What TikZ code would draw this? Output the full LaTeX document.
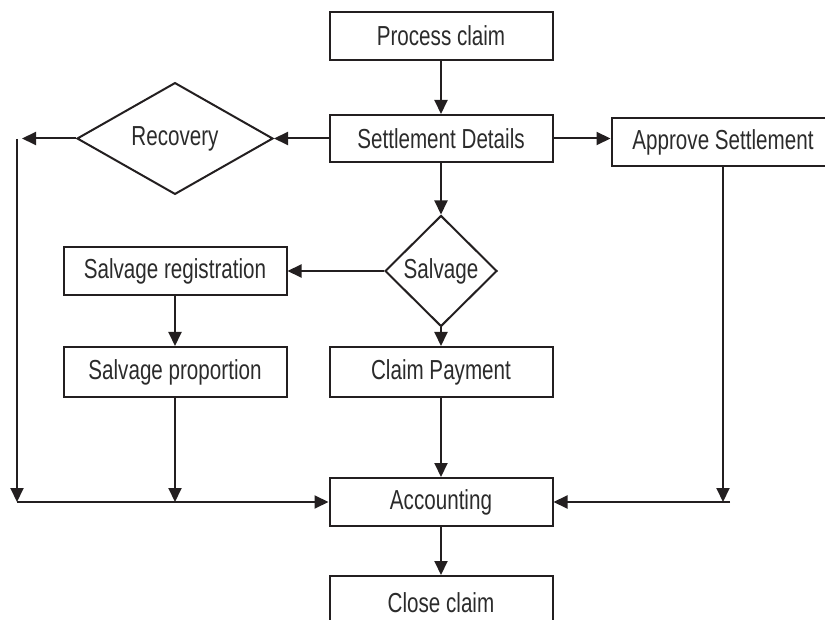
\documentclass[tikz,border=0pt]{standalone}
\usepackage{fontspec}
\setmainfont{Liberation Sans}[FakeStretch=0.75]
\usetikzlibrary{arrows.meta,shapes.geometric}
\definecolor{ink}{HTML}{231F20}
\definecolor{txt}{HTML}{2B2B2B}
\tikzset{
  base/.style={draw=ink, line width=2pt, text=txt, inner sep=0pt,
               font=\fontsize{27.5}{32}\selectfont},
  procbox/.style={base, rectangle, minimum width=223pt, minimum height=48pt},
  decision/.style={base, diamond},
  flow/.style={draw=ink, line width=2pt, -{Triangle[length=14pt,width=13pt]}},
  plain/.style={draw=ink, line width=2pt}
}
\begin{document}
\begin{tikzpicture}[x=1pt, y=-1pt]
\useasboundingbox (0,0) rectangle (825,620);
\clip (0,0) rectangle (825,620);

% process steps
\node[procbox] (pc)  at (441,36)    {Process claim};
\node[procbox, minimum height=47pt] (sd) at (441,138.5) {Settlement Details};
\node[procbox] (ap)  at (723,142)   {Approve Settlement};
\node[procbox] (sr)  at (175,271)   {Salvage registration};
\node[procbox, minimum height=50pt] (spp) at (175,372) {Salvage proportion};
\node[procbox, minimum height=50pt] (cp)  at (441,372) {Claim Payment};
\node[procbox] (acc) at (441,502)   {Accounting};
\node[procbox, minimum height=54pt] (cc) at (441,603) {Close claim};

% decisions
\node[decision, minimum width=196pt, minimum height=70pt] (rec) at (175,138.5) {Recovery};
\node[decision, minimum width=112pt, minimum height=111pt] (sal) at (441,271) {Salvage};

% helper points for the collector lines
\coordinate (recEnd) at (22,138.5);
\coordinate (lTop)   at (17,139);
\coordinate (lBot)   at (17,502);
\coordinate (sBot)   at (175,502);
\coordinate (rBot)   at (723,502);
\coordinate (rEnd)   at (730,502);

% main flow
\draw[flow] (pc.south) -- (sd.north);
\draw[flow] (sd.west) -- (rec.east);
\draw[flow] (rec.west) -- (recEnd);
\draw[flow] (sd.east) -- (sd.east -| ap.west);
\draw[flow] (sd.south) -- (sal.north);
\draw[flow] (sal.west) -- (sr.east);
\draw[flow] (sal.south) -- (cp.north);
\draw[flow] (sr.south) -- (spp.north);
\draw[flow] (cp.south) -- (acc.north);
\draw[flow] (acc.south) -- (cc.north);

% left collector into Accounting
\draw[flow] (lTop) -- (lBot);
\draw[flow] (spp.south) -- (sBot);
\draw[flow] (lBot) -- (acc.west);

% right collector into Accounting
\draw[flow] (ap.south) -- (rBot);
\draw[flow] (rEnd) -- (acc.east);
\end{tikzpicture}
\end{document}
